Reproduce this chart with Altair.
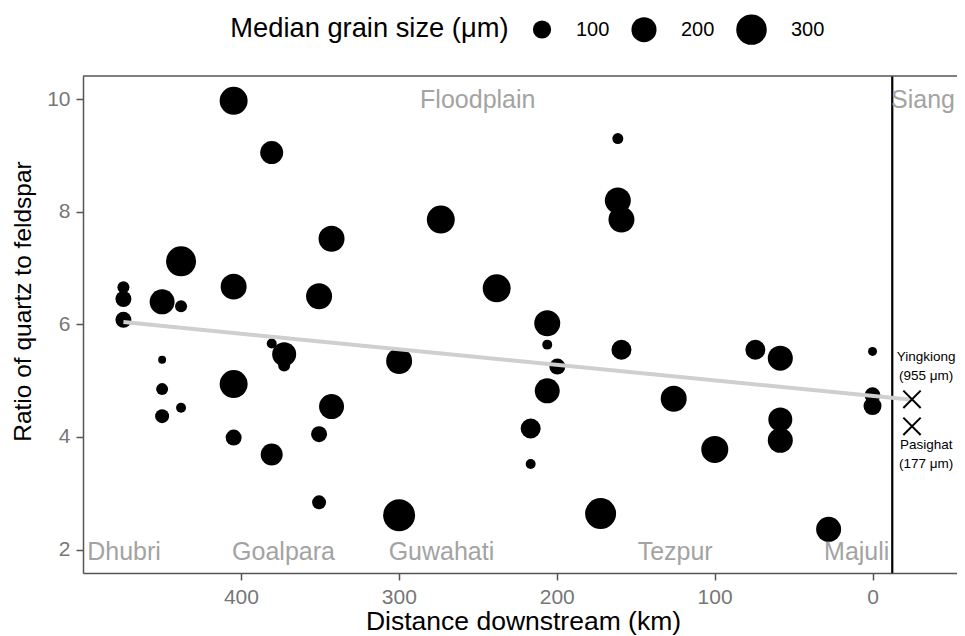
import altair as alt
import pandas as pd

# ---- data ----
dist = [404.6, 380.5, 342.6, 437.9, 474.4, 474.4, 449.9, 437.9, 404.6, 350.5, 474.4,
        161.3, 161.3, 159.0, 273.4, 238.0, 449.9, 449.9, 449.9, 437.9, 404.6, 404.6,
        380.5, 380.5, 372.6, 372.6, 342.6, 350.5, 350.5, 206.0, 206.0, 199.6, 206.0,
        216.5, 216.5, 159.0, 299.8, 299.8, 172.2, 125.9, 99.9, 74.2, 58.4, 58.4, 58.4,
        27.8, 0.0, 0.0, 0.0]
ratio = [9.97, 9.05, 7.52, 7.12, 6.66, 6.45, 6.40, 6.32, 6.67, 6.50, 6.08,
         9.30, 8.20, 7.86, 7.86, 6.64, 5.37, 4.85, 4.37, 4.52, 4.94, 3.99,
         3.69, 5.66, 5.47, 5.27, 4.54, 4.05, 2.84, 6.02, 5.64, 5.25, 4.82,
         4.15, 3.52, 5.55, 5.35, 2.61, 2.64, 4.68, 3.78, 5.55, 5.40, 4.31, 3.94,
         2.36, 5.52, 4.74, 4.55]
grain = [251, 166, 215, 290, 38, 75, 198, 38, 215, 215, 75,
         30, 215, 215, 251, 251, 11, 38, 55, 23, 251, 75,
         151, 23, 182, 38, 198, 75, 55, 215, 23, 75, 198,
         123, 23, 123, 215, 331, 310, 215, 233, 123, 198, 182, 198,
         198, 17, 75, 98]

trend_dist = [474.4, -25.0]
trend_ratio = [6.04, 4.66]

src_dist = [-25.0, -25.0]
src_ratio = [4.67, 4.19]
src_labels = ["Yingkiong\n(955 μm)", "Pasighat\n(177 μm)"]
src_label_dist = [-34.0, -34.0]
src_label_ratio = [5.42, 3.86]

towns = ["Dhubri", "Goalpara", "Guwahati", "Tezpur", "Majuli"]
town_dist = [474.0, 373.0, 273.0, 125.0, 10.0]
town_ratio = [2.0, 2.0, 2.0, 2.0, 2.0]

regions = ["Floodplain", "Siang"]
region_dist = [250.0, -32.0]
region_ratio = [10.0, 10.0]

divider_dist = [-12.5]

x_ticks = [0, 100, 200, 300, 400]
y_ticks = [2, 4, 6, 8, 10]
legend_values = [100, 200, 300]

FONT = "Liberation Sans"
W, H = 874, 497

pts = pd.DataFrame({"dist": dist, "ratio": ratio, "grain": grain})
trend = pd.DataFrame({"dist": trend_dist, "ratio": trend_ratio})
src = pd.DataFrame({"dist": src_dist, "ratio": src_ratio})
srclab = pd.DataFrame({"dist": src_label_dist, "ratio": src_label_ratio, "label": src_labels})
townlab = pd.DataFrame({"dist": town_dist, "ratio": town_ratio, "label": towns})
reglab = pd.DataFrame({"dist": region_dist, "ratio": region_ratio, "label": regions})
divider = pd.DataFrame({"dist": divider_dist})

xscale = alt.Scale(domain=[-53.5, 500], reverse=True, nice=False, zero=False)
yscale = alt.Scale(domain=[1.585, 10.41], nice=False, zero=False)

xaxis = alt.Axis(values=x_ticks, title="Distance downstream (km)", titleFontSize=26.5,
                 titleX=440, titleY=56, titleBaseline="alphabetic", labelPadding=6)
yaxis = alt.Axis(values=y_ticks, title="Ratio of quartz to feldspar", titleFontSize=24.5,
                 titleX=-53, titleY=225, titleBaseline="alphabetic", titleAngle=-90,
                 titleAlign="center", labelPadding=6)

X = alt.X("dist:Q", scale=xscale, axis=xaxis)
Y = alt.Y("ratio:Q", scale=yscale, axis=yaxis)

points = alt.Chart(pts).mark_circle(color="black", opacity=1).encode(
    x=X, y=Y,
    size=alt.Size("grain:Q", scale=alt.Scale(domain=[0, 350], range=[30, 1080]),
                  legend=alt.Legend(
                      title="Median grain size (μm)", orient="none", legendX=147.3, legendY=-62,
                      direction="horizontal", titleOrient="left", titleFontSize=27.3,
                      titleFont=FONT, titleColor="black", titleFontWeight="normal",
                      titleAnchor="middle", titleBaseline="middle", titlePadding=22.7,
                      titleLimit=600,
                      labelFontSize=20, labelFont=FONT, labelColor="black",
                      labelOffset=24, columnPadding=21, values=legend_values,
                      symbolFillColor="black", symbolStrokeWidth=0, symbolOpacity=1,
                      symbolType="circle"))
)

rule = alt.Chart(divider).mark_rule(color="black", strokeWidth=2.2).encode(x=X)

line = alt.Chart(trend).mark_line(color="#cfcfcf", strokeWidth=4).encode(x=X, y=Y)

crosses = alt.Chart(src).mark_point(
    shape="M-1,-1L1,1M-1,1L1,-1", filled=False, color="black", strokeWidth=2, size=300, opacity=1
).encode(x=X, y=Y)

src_text = alt.Chart(srclab).mark_text(
    font=FONT, fontSize=13.5, color="black", lineBreak="\n", lineHeight=19,
    align="center", baseline="middle"
).encode(x=X, y=Y, text="label:N")

town_text = alt.Chart(townlab).mark_text(
    font=FONT, fontSize=25, color="#a3a3a3", align="center", baseline="middle", dy=2
).encode(x=X, y=Y, text="label:N")

region_text = alt.Chart(reglab).mark_text(
    font=FONT, fontSize=25, color="#a3a3a3", align="center", baseline="middle", dy=1
).encode(x=X, y=Y, text="label:N")

top_border = alt.Chart(divider).mark_rule(color="#555555", strokeWidth=1.5).encode(
    x=alt.value(0), x2=alt.value(W), y=alt.value(0)
)

chart = alt.layer(
    points, rule, line, crosses, src_text, town_text, region_text, top_border
).properties(
    width=W, height=H,
    autosize=alt.AutoSizeParams(type="none"),
    padding={"left": 75, "top": 68, "right": 0, "bottom": 62},
    background="white",
).configure_view(stroke=None).configure_axis(
    grid=False, labelFont=FONT, titleFont=FONT, labelFontSize=21, labelColor="#777777",
    titleColor="black", titleFontWeight="normal", tickColor="#555555", tickWidth=1.5,
    tickSize=7, domainColor="#555555", domainWidth=1.5
)

chart.save("out.html", embed_options={"renderer": "svg", "actions": False})
